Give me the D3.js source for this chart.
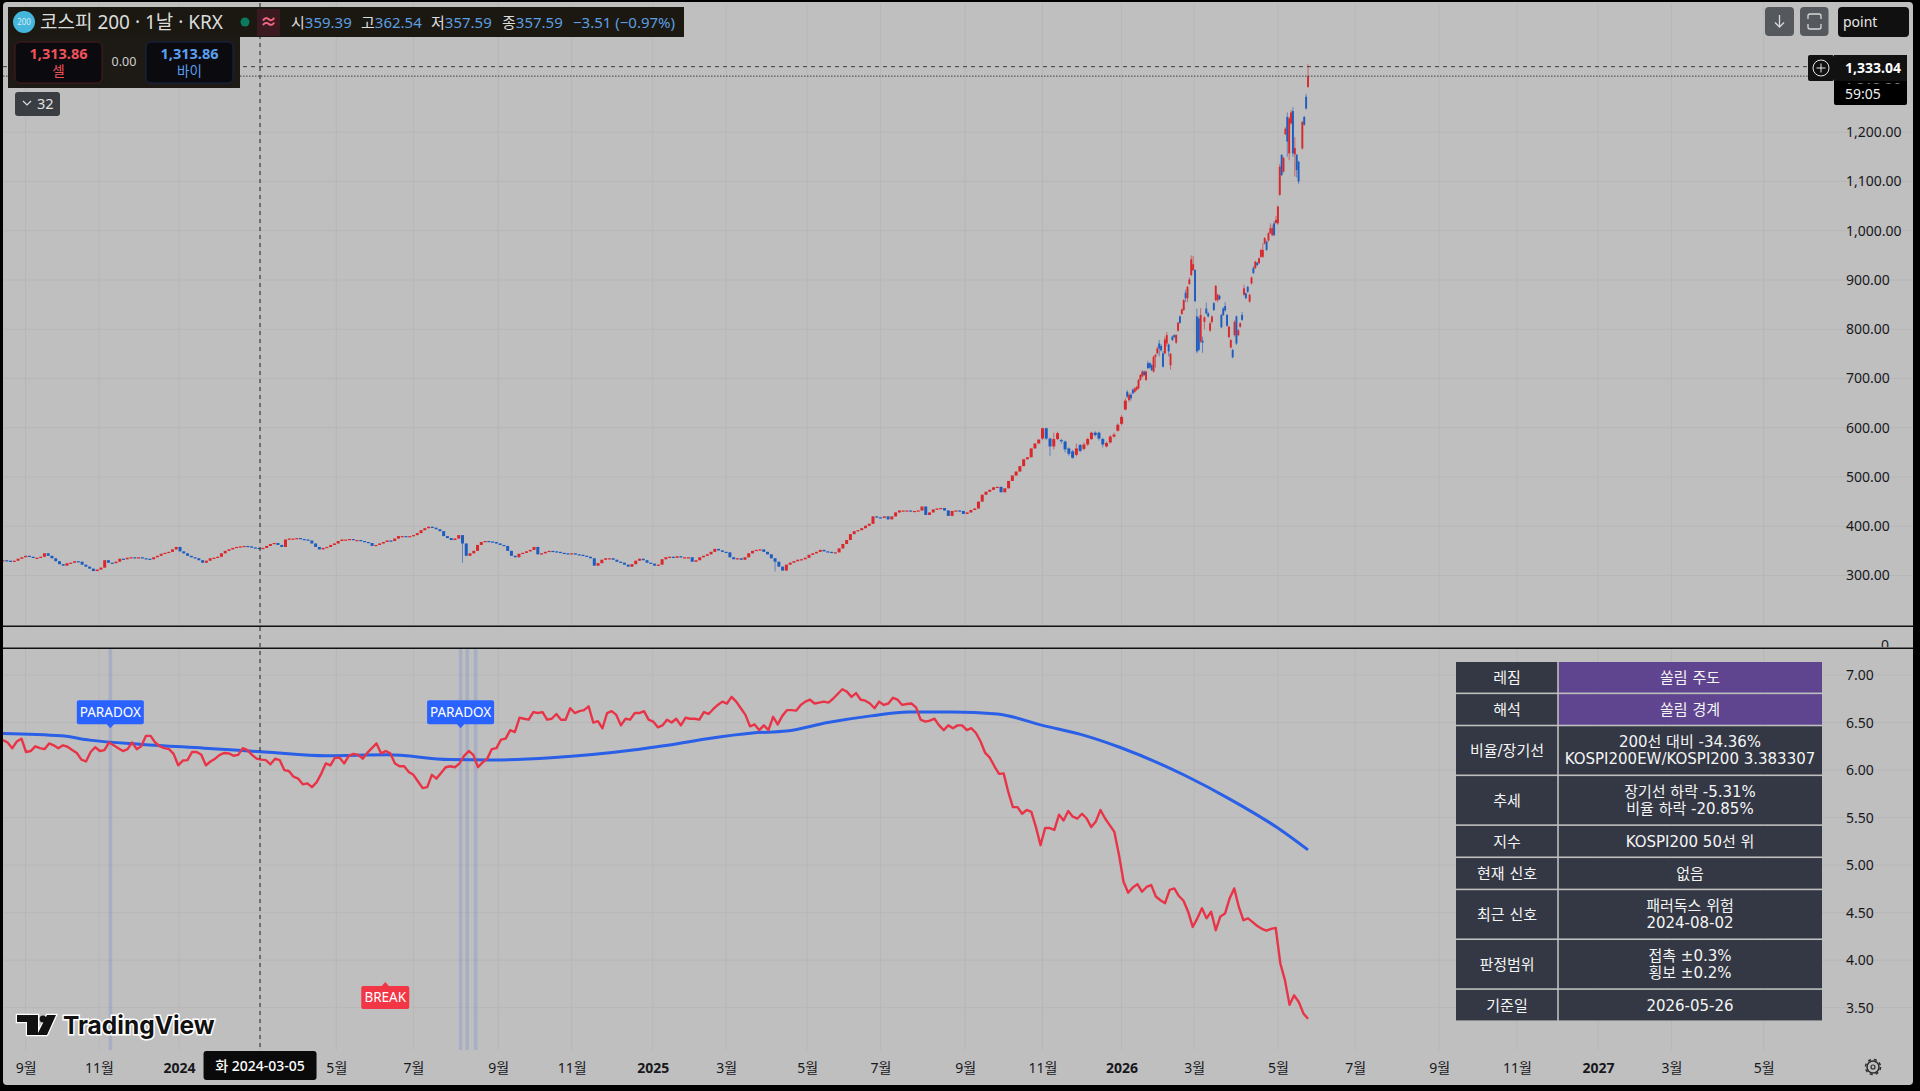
<!DOCTYPE html>
<html lang="ko"><head><meta charset="utf-8"><title>코스피 200</title>
<script src="https://cdn.jsdelivr.net/npm/d3@7/dist/d3.min.js"></script>
<style>
html,body{margin:0;padding:0;background:#000;overflow:hidden}
svg{display:block}
text{font-family:"Noto Sans","Noto Sans CJK KR",sans-serif}
.tbl text{font-family:"DejaVu Sans","Noto Sans CJK KR",sans-serif;font-size:15px;fill:#f4f4f4;text-anchor:middle}
</style></head><body><svg id="c" width="1920" height="1091"></svg>
<script>
// ---------- axis content ----------
const tickSessions=[12,51,93.5,177,218,263,302,345,384,427,466,511,552,594,632.5,677,718,762.6,804,847,886,935];
const tickLabels=["9월","11월","2024","5월","7월","9월","11월","2025","3월","5월","7월","9월","11월","2026","3월","5월","7월","9월","11월","2027","3월","5월"];
const priceTicks=[300,400,500,600,700,800,900,1000,1100,1200];
const ratioTicks=[3.5,4,4.5,5,5.5,6,6.5,7];
// ---------- price pane: closes read every second session ----------
const closes=[331,330,328,330,334,337,340,338,336,336,
338,345,340,335,329,323,320,325,326,329,
328,322,318,314,309,312,316,331,326,325,
328,334,333,336,337,336,337,335,334,333,
337,340,344,346,348,353,358,349,345,340,
337,335,331,326,330,335,336,338,345,350,
353,356,358,359,360,359,357,356,355,356,
360,364,366,362,358,373,375,375,376,374,
373,371,365,358,353,356,358,362,365,370,
373,373,374,372,372,370,368,366,360,362,
365,368,371,370,375,380,380,379,380,382,
386,392,396,399,397,394,390,380,376,372,
375,382,365,340,345,350,362,368,370,369,
368,365,362,360,350,340,337,344,346,349,
352,358,343,345,348,350,349,348,346,345,
344,345,343,342,340,338,335,320,325,332,
335,335,332,328,326,322,318,323,330,334,
331,326,324,320,322,333,337,338,336,339,
337,337,337,328,331,337,340,343,348,354,
351,348,347,337,333,335,332,337,345,350,
352,353,348,343,335,328,318,310,322,326,
329,332,333,336,
342,345,348,352,349,348,346,347,355,
364,372,384,390,392,396,401,405,420,418,
417,420,414,420,428,432,432,432,431,431,
432,440,423,428,434,436,437,432,421,431,
432,431,425,428,433,436,450,464,470,474,
479,480,469,477,492,503,511,522,536,540,
558,568,576];
const longWickSessions=[244,410];
const longWickLows=[326,308];
// [session, open, high, low, close], every second session
const midCandles=[[552,578,600,575,599],[554,599,600,575,578],[556,578,580,543,562],[558,562,590,556,577],
[560,577,592,575,589],[562,575,578,568,573],[564,572,574,550,556],[566,558,560,543,547],[568,552,555,537,539],
[570,545,568,542,558],[572,565,567,550,553],[574,557,570,554,566],[576,566,580,563,577],[578,577,592,575,590],
[580,590,593,582,585],[582,590,592,574,578],[584,577,580,560,566],[586,562,572,560,569],[588,570,585,568,582],
[590,582,590,580,586],[592,594,609,592,606],[594,608,626,605,622],[596,637,660,635,655]];
// [session, open, high, low, close], every session
const dailyCandles=[[597,673,676,660,663],[598,656,671,652,667],[599,667,670,655,660],[600,677,680,668,670],
[601,673,682,671,680],[602,677,685,675,683],[603,680,699,678,697],[604,697,709,695,707],[605,704,717,702,714],
[606,714,716,705,707],[607,697,716,695,714],[608,731,736,719,721],[609,731,733,720,722],[610,727,730,715,717],
[611,714,746,712,744],[612,744,750,722,748],[613,751,765,749,761],[614,771,778,745,761],[615,766,770,755,757],
[616,751,756,722,724],[617,751,785,749,779],[618,771,794,765,788],[619,769,771,745,755],[620,727,752,718,750],
[621,785,787,776,778],[622,788,790,782,784],[623,773,790,770,788],[624,797,815,795,813],[625,826,828,811,813],
[626,831,842,829,840],[627,839,861,837,859],[628,874,880,855,863],[629,863,888,855,886],[630,892,905,890,901],
[631,910,950,908,942],[632,920,949,918,932],[633,920,922,855,857],[634,826,842,751,755],[635,822,826,755,758],
[636,775,843,772,829],[637,777,785,752,773],[638,815,826,800,824],[639,842,854,830,832],[640,832,835,824,826],
[641,797,816,795,812],[642,815,828,812,826],[643,853,855,837,839],[644,859,890,857,888],[645,859,872,855,870],
[646,868,870,859,861],[647,829,831,802,804],[648,842,845,827,829],[649,847,855,836,838],[650,829,831,805,807],
[651,784,807,782,805],[652,763,780,761,778],[653,758,760,741,743],[654,788,818,785,815],[655,826,828,768,771],
[656,788,800,786,798],[657,805,814,803,812],[658,829,835,817,819],[659,870,890,868,883],[660,873,875,861,863],
[661,886,888,874,876],[662,856,872,854,870],[663,893,907,891,905],[664,924,928,912,914],[665,924,939,922,937],
[666,935,937,928,930],[667,934,946,932,944],[668,947,963,945,961],[669,947,975,945,961],[670,974,987,972,985],
[671,978,980,959,961],[672,980,997,978,995],[673,995,1015,993,1005],[674,991,1012,989,1005],[675,1015,1020,989,991],
[676,1016,1030,1014,1022],[677,1015,1051,1012,1049],[678,1073,1135,1071,1130],[679,1154,1155,1111,1113],
[680,1120,1150,1118,1148],[681,1196,1210,1194,1207],[682,1231,1240,1150,1181],[683,1157,1232,1143,1228],
[684,1218,1245,1215,1240],[685,1243,1251,1150,1157],[686,1155,1190,1110,1168],[687,1154,1156,1108,1123],
[688,1140,1142,1095,1100],[690,1167,1223,1165,1221],[691,1231,1233,1213,1215],[692,1272,1278,1246,1248],
[693,1292,1338,1290,1313.86]];
const lastTraded=1333.04, lastClose=1313.86;
// ---------- ratio pane ----------
const ratioValues=[6.315,6.29,6.23,6.30,6.33,6.19,6.20,6.25,6.23,6.22,6.28,6.26,6.23,6.26,6.245,6.21,6.18,6.11,6.09,6.19,
6.24,6.20,6.21,6.29,6.26,6.23,6.20,6.22,6.29,6.22,6.25,6.36,6.36,6.29,6.25,6.23,6.22,6.17,6.05,6.10,
6.105,6.19,6.19,6.16,6.05,6.09,6.12,6.16,6.18,6.175,6.15,6.16,6.23,6.21,6.16,6.12,6.11,6.105,6.06,6.12,
6.105,6.00,5.99,5.93,5.91,5.85,5.86,5.82,5.87,5.96,6.07,6.05,6.13,6.13,6.07,6.15,6.17,6.16,6.12,6.18,
6.23,6.28,6.175,6.20,6.175,6.07,6.04,6.04,5.98,5.95,5.88,5.81,5.82,5.95,5.91,5.97,6.03,6.04,6.03,6.07,
6.15,6.20,6.16,6.03,6.08,6.12,6.22,6.23,6.32,6.33,6.42,6.40,6.55,6.54,6.53,6.61,6.60,6.61,6.53,6.54,
6.59,6.53,6.53,6.65,6.60,6.62,6.63,6.67,6.50,6.515,6.44,6.60,6.62,6.58,6.47,6.54,6.53,6.60,6.60,
6.62,6.53,6.51,6.45,6.47,6.53,6.50,6.54,6.47,6.55,6.54,6.54,6.53,6.61,6.59,6.64,6.685,6.72,6.70,6.77,
6.72,6.65,6.58,6.46,6.48,6.42,6.47,6.42,6.56,6.48,6.57,6.63,6.63,6.625,6.685,6.72,6.74,6.70,6.71,6.72,
6.71,6.75,6.80,6.85,6.825,6.77,6.81,6.74,6.73,6.70,6.65,6.72,6.685,6.70,6.76,6.74,6.685,6.695,6.70,6.66,
6.53,6.51,6.52,6.54,6.47,6.42,6.47,6.44,6.47,6.47,6.42,6.44,6.39,6.30,6.18,6.13,6.04,5.96,5.965,5.77,
5.61,5.61,5.54,5.58,5.56,5.40,5.21,5.39,5.39,5.37,5.53,5.47,5.57,5.51,5.49,5.54,5.49,5.40,5.46,5.58,
5.49,5.42,5.35,5.11,4.825,4.71,4.765,4.80,4.72,4.77,4.79,4.67,4.63,4.60,4.74,4.755,4.675,4.625,4.51,4.35,
4.44,4.545,4.44,4.51,4.315,4.46,4.49,4.65,4.755,4.56,4.42,4.44,4.40,4.36,4.33,4.31,4.33,4.34,3.965,3.79,
3.53,3.63,3.56,3.44,3.383];
const maSessions=[0,31,46,74,107,139,172,204,237,259,291,338,353,374,398,416,438,461,481,504,528,552,575,593,628,651,677,693];
const maValues=[6.385,6.36,6.315,6.27,6.23,6.19,6.15,6.16,6.11,6.105,6.13,6.22,6.26,6.33,6.39,6.41,6.50,6.57,6.61,6.61,6.59,6.47,6.36,6.24,5.94,5.70,5.39,5.16];
const bandSessions=[57,243,246.5,251];
const signalSessions=[57,243,203];
const signalValues=[6.45,6.45,3.76];
const signalTexts=["PARADOX","PARADOX","BREAK"];
const crossSession=136.5, crossLabel="화 2024-03-05";
// ---------- table ----------
const tableLabels=["레짐","해석","비율/장기선","추세","지수","현재 신호","최근 신호","판정범위","기준일"];
const tableValues=[["쏠림 주도"],["쏠림 경계"],["200선 대비 -34.36%","KOSPI200EW/KOSPI200 3.383307"],["장기선 하락 -5.31%","비율 하락 -20.85%"],["KOSPI200 50선 위"],["없음"],["패러독스 위험","2024-08-02"],["접촉 ±0.3%","횡보 ±0.2%"],["2026-05-26"]];
const tableHighlight=[true,true,false,false,false,false,false,false,false];
const tableRowWeights=[1,1,1.55,1.55,1,1,1.55,1.55,1];

// ---------- scales ----------
const x=d3.scaleLinear().domain([0,693]).range([3,1308]);
const yP=d3.scaleLinear().domain([300,1200]).range([575.5,132.2]);
const yR=d3.scaleLinear().domain([3.5,7]).range([1007.7,675]);
const svg=d3.select("#c");
const gray="#bfbfbf", ink="#17181c";
svg.append("rect").attr("width",1920).attr("height",1091).attr("fill","#000");
svg.append("rect").attr("x",3).attr("y",2).attr("width",1910).attr("height",1083).attr("rx",4).attr("fill",gray);
const defs=svg.append("defs");
defs.append("clipPath").attr("id","top").append("rect").attr("x",3).attr("y",3).attr("width",1910).attr("height",622);
defs.append("clipPath").attr("id","bot").append("rect").attr("x",3).attr("y",649).attr("width",1910).attr("height",401);

// grid
const grid=svg.append("g").attr("stroke","#b7b7b7").attr("stroke-width",1);
grid.selectAll(".vt").data(tickSessions.concat([crossSession])).join("line").attr("x1",d=>x(d)).attr("x2",d=>x(d)).attr("y1",3).attr("y2",625);
grid.selectAll(".vb").data(tickSessions.concat([crossSession])).join("line").attr("x1",d=>x(d)).attr("x2",d=>x(d)).attr("y1",649).attr("y2",1050);
grid.selectAll(".hp").data(priceTicks).join("line").attr("x1",3).attr("x2",1913).attr("y1",d=>yP(d)).attr("y2",d=>yP(d));
grid.selectAll(".hr").data(ratioTicks).join("line").attr("x1",3).attr("x2",1913).attr("y1",d=>yR(d)).attr("y2",d=>yR(d));

// separators
svg.append("rect").attr("x",3).attr("y",625.5).attr("width",1910).attr("height",1.5).attr("fill","#111");
svg.append("rect").attr("x",3).attr("y",647.5).attr("width",1910).attr("height",1.5).attr("fill","#111");

// candles
const up="#d9272b", down="#1f5cc0";
const candles=closes.map((c,i)=>{
  const o=i?closes[i-1]:c, s=i*2, k=longWickSessions.findIndex(w=>Math.abs(w-s)<=1);
  return {s,o,c,h:Math.max(o,c),l:k>=0?longWickLows[k]:Math.min(o,c),w:3};
}).concat(midCandles.map(r=>({s:r[0],o:r[1],h:r[2],l:r[3],c:r[4],w:3})))
  .concat(dailyCandles.map(r=>({s:r[0],o:r[1],h:r[2],l:r[3],c:r[4],w:1.9})));
const gc=svg.append("g").attr("clip-path","url(#top)");
gc.selectAll(".wick").data(candles).join("line").attr("x1",d=>x(d.s)).attr("x2",d=>x(d.s))
  .attr("y1",d=>yP(d.h)).attr("y2",d=>yP(d.l)).attr("stroke-width",1).attr("stroke-opacity",.6)
  .attr("stroke",d=>d.c>=d.o?up:down);
gc.selectAll(".body").data(candles).join("rect").attr("x",d=>x(d.s)-d.w/2).attr("width",d=>d.w)
  .attr("y",d=>yP(Math.max(d.o,d.c))).attr("height",d=>Math.max(1.2,Math.abs(yP(d.o)-yP(d.c))))
  .attr("fill",d=>d.c>=d.o?up:down);

// price lines
svg.append("line").attr("x1",3).attr("x2",1808).attr("y1",yP(lastTraded)).attr("y2",yP(lastTraded)).attr("stroke","#3d3d3d").attr("stroke-dasharray","4 4");
svg.append("line").attr("x1",3).attr("x2",1834).attr("y1",yP(lastClose)).attr("y2",yP(lastClose)).attr("stroke","#3d3d3d").attr("stroke-dasharray","1.5 1.5");

// ratio pane
const gb=svg.append("g").attr("clip-path","url(#bot)");
gb.selectAll(".band").data(bandSessions).join("rect").attr("x",d=>x(d)-1.8).attr("width",3.6).attr("y",649).attr("height",401).attr("fill","#3f66d8").attr("opacity",.17);
const ratioStep=693/(ratioValues.length-1);
gb.append("path").datum(maValues).attr("fill","none").attr("stroke","#2a5fe8").attr("stroke-width",3).attr("stroke-linejoin","round")
  .attr("d",d3.line().x((d,i)=>x(maSessions[i])).y(d=>yR(d)).curve(d3.curveMonotoneX));
gb.append("path").datum(ratioValues).attr("fill","none").attr("stroke","#e93448").attr("stroke-width",2.4).attr("stroke-linejoin","round")
  .attr("d",d3.line().x((d,i)=>x(i*ratioStep)).y(d=>yR(d)));

// signal labels
signalTexts.forEach((t,i)=>{
  const px=x(signalSessions[i]), py=yR(signalValues[i]), isB=t==="BREAK";
  const g=svg.append("g"), w=isB?48:67, h=isB?23:24;
  const fill=isB?"#f23645":"#2962ff";
  const lx=isB?px-24:px-33.5;
  const ty=isB?py+3:py-3-h;
  g.append("rect").attr("x",lx).attr("y",ty).attr("width",w).attr("height",h).attr("rx",2).attr("fill",fill);
  g.append("path").attr("d",isB?`M${px-4},${ty+.5}L${px},${ty-4}L${px+4},${ty+.5}Z`:`M${px-4},${ty+h-.5}L${px},${ty+h+4}L${px+4},${ty+h-.5}Z`).attr("fill",fill);
  g.append("text").attr("x",lx+w/2).attr("y",ty+h/2+4.8).attr("text-anchor","middle").attr("font-size",13.5).attr("fill","#fff").text(t);
});

// axes
const axP=svg.append("g").attr("transform","translate(1846,0)").call(d3.axisRight(yP).tickValues(priceTicks).tickFormat(d3.format(",.2f")).tickSize(0).tickPadding(0));
const axR=svg.append("g").attr("transform","translate(1846,0)").call(d3.axisRight(yR).tickValues(ratioTicks).tickFormat(d3.format(".2f")).tickSize(0).tickPadding(0));
const axX=svg.append("g").attr("transform","translate(0,1050)").call(d3.axisBottom(x).tickValues(tickSessions).tickFormat((d,i)=>tickLabels[i]).tickSize(0).tickPadding(0));
[axP,axR,axX].forEach(a=>{a.select(".domain").remove();a.selectAll("text").attr("fill",ink).attr("font-size",14).style("font-family",'"Noto Sans","Noto Sans CJK KR",sans-serif');});
axX.selectAll("text").attr("y",0).attr("dy",23).attr("font-weight",(d,i)=>/^20/.test(tickLabels[i])?700:400);
svg.append("text").attr("x",1881).attr("y",650).attr("font-size",14).attr("fill",ink).attr("clip-path","url(#top2)").text("0");
defs.append("clipPath").attr("id","top2").append("rect").attr("x",1870).attr("y",627).attr("width",30).attr("height",20);

// crosshair
svg.append("line").attr("x1",x(crossSession)).attr("x2",x(crossSession)).attr("y1",3).attr("y2",1051).attr("stroke","#222").attr("stroke-dasharray","4 4");
svg.append("rect").attr("x",x(crossSession)-56.5).attr("y",1051).attr("width",113).attr("height",29).attr("rx",3).attr("fill","#0a0a0a");
svg.append("text").attr("x",x(crossSession)).attr("y",1071).attr("text-anchor","middle").attr("fill","#fff").attr("font-size",14).attr("font-weight",500).text(crossLabel);

// table
const tLeft=1456,tSplit=1558,tRight=1822,tTop=662,tBottom=1022,gap=1.6;
const yT=d3.scaleLinear().domain([0,d3.sum(tableRowWeights)]).range([tTop,tBottom]);
const tg=svg.append("g").attr("class","tbl");
let acc=0;
tableLabels.forEach((lab,i)=>{
  const y0=yT(acc), y1=yT(acc+tableRowWeights[i]); acc+=tableRowWeights[i];
  tg.append("rect").attr("x",tLeft).attr("y",y0).attr("width",tSplit-tLeft-gap/2).attr("height",y1-y0-gap).attr("fill","#333844");
  tg.append("rect").attr("x",tSplit+gap/2).attr("y",y0).attr("width",tRight-tSplit-gap/2).attr("height",y1-y0-gap).attr("fill",tableHighlight[i]?"#5f448f":"#333844");
  const cy=(y0+y1-gap)/2;
  tg.append("text").attr("x",(tLeft+tSplit)/2).attr("y",cy+5.5).text(lab);
  const v=tableValues[i];
  v.forEach((line,k)=>tg.append("text").attr("x",(tSplit+tRight)/2).attr("y",cy+5.5+(k-(v.length-1)/2)*17).text(line));
});

// header overlays
const hd=svg.append("g");
hd.append("rect").attr("x",8).attr("y",7).attr("width",676).attr("height",30).attr("fill","#1b1812");
hd.append("rect").attr("x",8).attr("y",37).attr("width",232).attr("height",51).attr("fill","#1d1914");
hd.append("circle").attr("cx",24).attr("cy",22).attr("r",11).attr("fill","#45b6dc");
hd.append("text").attr("x",24).attr("y",25).attr("text-anchor","middle").attr("font-size",8).attr("fill","#d5eef6").text("200");
hd.append("text").attr("x",40).attr("y",29).attr("font-size",19).attr("fill","#dcdcdc").text("코스피 200 · 1날 · KRX");
hd.append("circle").attr("cx",245).attr("cy",22).attr("r",4.5).attr("fill","#0b7a5e");
hd.append("rect").attr("x",257).attr("y",9).attr("width",23).attr("height",27).attr("fill","#3a1a20");
hd.append("text").attr("x",268.5).attr("y",28).attr("text-anchor","middle").attr("font-size",17).attr("font-weight",700).attr("fill","#f06a85").text("≈");
const ohlcLabels=["시","고","저","종"], ohlcValues=["359.39","362.54","357.59","357.59"], ohlcX=[291,361,431,502];
ohlcLabels.forEach((l,i)=>{
  const t=hd.append("text").attr("x",ohlcX[i]).attr("y",28).attr("font-size",15);
  t.append("tspan").attr("fill","#dcdcdc").text(l);
  t.append("tspan").attr("fill","#5b9fe0").text(ohlcValues[i]);
});
hd.append("text").attr("x",573).attr("y",28).attr("font-size",15).attr("fill","#5b9fe0").text("−3.51 (−0.97%)");
hd.append("rect").attr("x",15).attr("y",42).attr("width",87).attr("height",41).attr("rx",5).attr("fill","#0b0b0f").attr("stroke","#4a1c1e");
hd.append("rect").attr("x",146).attr("y",42).attr("width",87).attr("height",41).attr("rx",5).attr("fill","#0b0b0f").attr("stroke","#16264c");
[[58.5,"#f0525c","셀"],[189.5,"#5b9ff0","바이"]].forEach(r=>{
  hd.append("text").attr("x",r[0]).attr("y",59).attr("text-anchor","middle").attr("font-size",14.5).attr("font-weight",700).attr("fill",r[1]).text("1,313.86");
  hd.append("text").attr("x",r[0]).attr("y",76).attr("text-anchor","middle").attr("font-size",13.5).attr("fill",r[1]).text(r[2]);
});
hd.append("text").attr("x",124).attr("y",66).attr("text-anchor","middle").attr("font-size",12.5).attr("fill","#cfcfcf").text("0.00");
hd.append("rect").attr("x",15).attr("y",92).attr("width",45).attr("height",24).attr("rx",3).attr("fill","#3a3d42");
hd.append("path").attr("d","M23,101l4,4l4,-4").attr("fill","none").attr("stroke","#ddd").attr("stroke-width",1.2);
hd.append("text").attr("x",37).attr("y",109).attr("font-size",14.5).attr("fill","#e2e2e2").text("32");

// right controls
const rc=svg.append("g");
rc.append("rect").attr("x",1765).attr("y",7).attr("width",29).attr("height",29).attr("rx",4).attr("fill","#55585c");
rc.append("path").attr("d","M1779.5,15v12M1775,22.5l4.5,4.5l4.5,-4.5").attr("fill","none").attr("stroke","#d8d8d8").attr("stroke-width",1.3);
rc.append("rect").attr("x",1800).attr("y",7).attr("width",28.5).attr("height",29).attr("rx",4).attr("fill","#55585c");
rc.append("path").attr("d","M1808,19v-3q0,-2,2,-2h9q2,0,2,2v3M1808,24v3q0,2,2,2h9q2,0,2,-2v-3").attr("fill","none").attr("stroke","#d8d8d8").attr("stroke-width",1.3);
rc.append("rect").attr("x",1838).attr("y",7).attr("width",71).attr("height",30).attr("rx",4).attr("fill","#101010");
rc.append("text").attr("x",1843).attr("y",27).attr("font-size",14).attr("fill","#e6e6e6").text("point");
rc.append("rect").attr("x",1808).attr("y",55).attr("width",26).attr("height",26).attr("rx",2).attr("fill","#111");
rc.append("circle").attr("cx",1821).attr("cy",68).attr("r",8).attr("fill","none").attr("stroke","#e8e8e8");
rc.append("path").attr("d","M1816.5,68h9M1821,63.5v9").attr("stroke","#e8e8e8");
rc.append("rect").attr("x",1834).attr("y",55).attr("width",73).attr("height",50).attr("rx",2).attr("fill","#000");
rc.append("rect").attr("x",1834).attr("y",55).attr("width",73).attr("height",26).attr("fill","#111");
rc.append("text").attr("x",1845).attr("y",73).attr("font-size",14).attr("font-weight",700).attr("fill","#fff").text(d3.format(",.2f")(lastTraded));
defs.append("clipPath").attr("id","sl").append("rect").attr("x",1840).attr("y",81).attr("width",62).attr("height",2.5);
rc.append("text").attr("x",1845).attr("y",93).attr("font-size",14).attr("fill","#eee").attr("clip-path","url(#sl)").text(d3.format(",.2f")(lastClose));
rc.append("text").attr("x",1845).attr("y",99).attr("font-size",14).attr("fill","#eee").text("59:05");

// gear
const gr=svg.append("g").attr("fill","none").attr("stroke","#2b2b2b");
gr.append("circle").attr("cx",1873).attr("cy",1067).attr("r",6).attr("stroke-width",1.5);
gr.append("circle").attr("cx",1873).attr("cy",1067).attr("r",7.5).attr("stroke-width",1.5).attr("stroke-dasharray","3 3");
gr.append("circle").attr("cx",1873).attr("cy",1067).attr("r",2).attr("stroke-width",1.2);

// logo
const logo=svg.append("g");
logo.append("path").attr("d","M17,1015H38V1035H27V1022H17ZM47,1015H56L47,1035H37Z").attr("fill","#111").attr("stroke","#fff").attr("stroke-width",2.5).attr("paint-order","stroke");
logo.append("circle").attr("cx",43).attr("cy",1019).attr("r",3.4).attr("fill","#111");
logo.append("text").attr("x",63).attr("y",1034).attr("font-size",24.5).attr("font-weight",700).attr("fill","#111").attr("stroke","#fff").attr("stroke-width",3).attr("paint-order","stroke").style("font-family","Inter,sans-serif").text("TradingView");
</script></body></html>
